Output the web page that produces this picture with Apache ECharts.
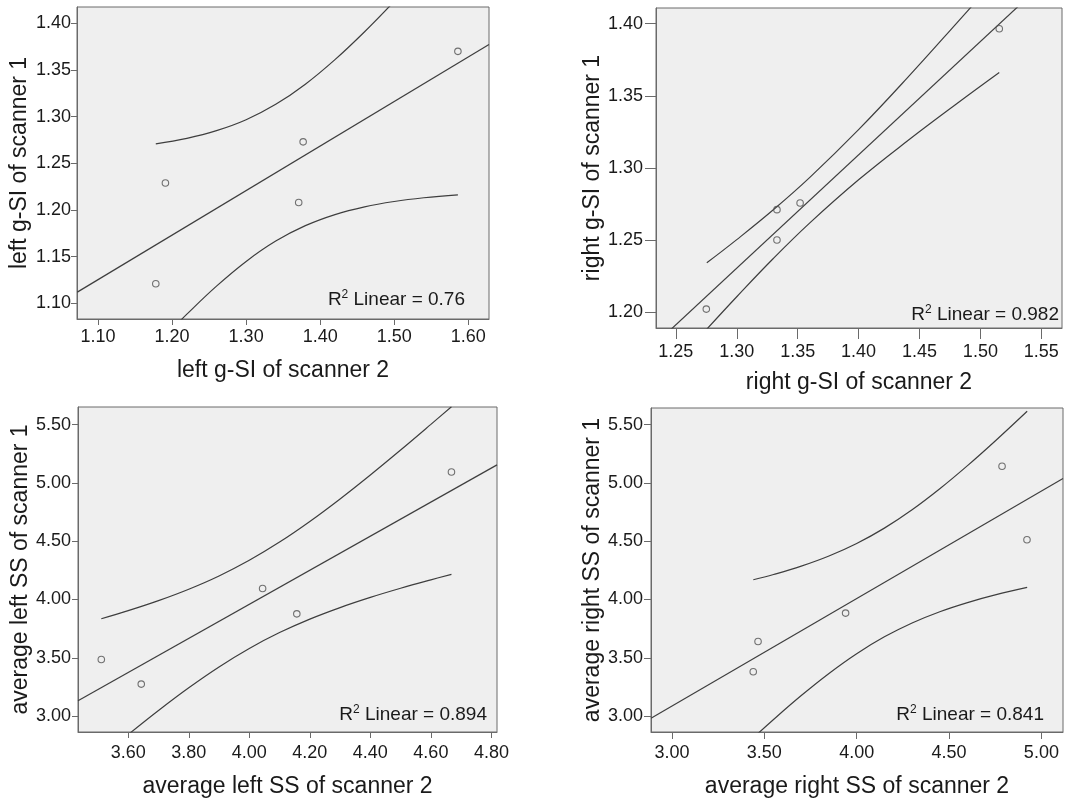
<!DOCTYPE html>
<html>
<head>
<meta charset="utf-8">
<script src="https://cdn.jsdelivr.net/npm/echarts@6/dist/echarts.min.js"></script>
<style>
  html, body { margin: 0; padding: 0; background: #ffffff; }
  #chart { width: 1069px; height: 804px; }
</style>
</head>
<body>
<div id="chart"></div>
<script>
// ---- left g-SI: scanner 2 (x) vs scanner 1 (y)
const leftGsiScanner2 = [1.178, 1.191, 1.371, 1.377, 1.586];
const leftGsiScanner1 = [1.121, 1.229, 1.208, 1.273, 1.370];
const leftGsiFit = [[1.072, 1.1120], [1.628, 1.3774]];
const leftGsiUpper = [[1.178, 1.2709], [1.22, 1.2768], [1.26, 1.2850], [1.30, 1.2967], [1.34, 1.3132],
  [1.38, 1.3348], [1.42, 1.3611], [1.46, 1.3910], [1.50, 1.4235]];
const leftGsiLower = [[1.178, 1.0543], [1.20, 1.0724], [1.22, 1.0884], [1.26, 1.1184], [1.30, 1.1449],
  [1.34, 1.1667], [1.38, 1.1832], [1.42, 1.1951], [1.46, 1.2034], [1.50, 1.2091], [1.54, 1.2131], [1.586, 1.2163]];
const leftGsiXTicks = [1.10, 1.20, 1.30, 1.40, 1.50, 1.60];
const leftGsiYTicks = [1.10, 1.15, 1.20, 1.25, 1.30, 1.35, 1.40];

// ---- right g-SI
const rightGsiScanner2 = [1.275, 1.333, 1.333, 1.352, 1.5155];
const rightGsiScanner1 = [1.202, 1.271, 1.250, 1.2756, 1.3965];
const rightGsiFit = [[1.2337, 1.1783], [1.567, 1.4403]];
const rightGsiUpper = [[1.2754, 1.2341], [1.30, 1.2502], [1.33, 1.2709], [1.36, 1.2934], [1.40, 1.3265],
  [1.44, 1.3624], [1.48, 1.3999], [1.5155, 1.4337]];
const rightGsiLower = [[1.2754, 1.1881], [1.30, 1.2106], [1.33, 1.2371], [1.36, 1.2618], [1.40, 1.2917],
  [1.44, 1.3186], [1.48, 1.3441], [1.5155, 1.3661]];
const rightGsiXTicks = [1.25, 1.30, 1.35, 1.40, 1.45, 1.50, 1.55];
const rightGsiYTicks = [1.20, 1.25, 1.30, 1.35, 1.40];

// ---- average left SS
const leftSsScanner2 = [3.511, 3.643, 4.044, 4.157, 4.668];
const leftSsScanner1 = [3.485, 3.274, 4.094, 3.877, 5.094];
const leftSsFit = [[3.434, 3.1303], [4.8185, 5.1551]];
const leftSsUpper = [[3.511, 3.8349], [3.60, 3.9045], [3.70, 3.9904], [3.80, 4.0882], [3.90, 4.2020],
  [4.00, 4.3362], [4.10, 4.4925], [4.20, 4.6695], [4.30, 4.8629], [4.40, 5.0685], [4.50, 5.2825],
  [4.60, 5.5025], [4.668, 5.6545]];
const leftSsLower = [[3.511, 2.6509], [3.60, 2.8417], [3.70, 3.0482], [3.80, 3.2430], [3.90, 3.4216],
  [4.00, 3.5800], [4.10, 3.7161], [4.20, 3.8317], [4.30, 3.9307], [4.40, 4.0177], [4.50, 4.0961],
  [4.60, 4.1686], [4.668, 4.2155]];
const leftSsXTicks = [3.60, 3.80, 4.00, 4.20, 4.40, 4.60, 4.80];
const leftSsYTicks = [3.00, 3.50, 4.00, 4.50, 5.00, 5.50];

// ---- average right SS
const rightSsScanner2 = [3.440, 3.466, 3.940, 4.787, 4.922];
const rightSsScanner1 = [3.380, 3.640, 3.883, 5.143, 4.512];
const rightSsFit = [[2.8865, 2.9803], [5.117, 5.0383]];
const rightSsUpper = [[3.4404, 4.1692], [3.55, 4.2143], [3.70, 4.2858], [3.85, 4.3728], [4.00, 4.4803],
  [4.15, 4.6124], [4.30, 4.7701], [4.45, 4.9505], [4.60, 5.1488], [4.75, 5.3602], [4.923, 5.6152]];
const rightSsLower = [[3.4404, 2.8136], [3.55, 2.9708], [3.70, 3.1760], [3.85, 3.3658], [4.00, 3.5351],
  [4.15, 3.6798], [4.30, 3.7989], [4.45, 3.8953], [4.60, 3.9737], [4.75, 4.0391], [4.923, 4.1034]];
const rightSsXTicks = [3.00, 3.50, 4.00, 4.50, 5.00];
const rightSsYTicks = [3.00, 3.50, 4.00, 4.50, 5.00, 5.50];

const r2Labels = ['0.76', '0.982', '0.894', '0.841'];

const FONT = "'Liberation Sans', Arial, Helvetica, sans-serif";
const TEXT = '#1a1a1a';
const FRAME = '#6a6a6a';
const CURVE = '#3e3e3e';

// one entry per panel: data plus its frame placement
const panels = [
  { xs: leftGsiScanner2, ys: leftGsiScanner1, fit: leftGsiFit, upper: leftGsiUpper, lower: leftGsiLower,
    xTicks: leftGsiXTicks, yTicks: leftGsiYTicks, xRange: [1.0716, 1.628], yRange: [1.0832, 1.4175],
    xName: 'left g-SI of scanner 2', yName: 'left g-SI of scanner 1',
    box: { left: 77, top: 7, width: 412, height: 312 },
    tickLen: 6, xMargin: 9, yMargin: 6, xGap: 40, yGap: 46, r2: { x: 465, y: 300 } },
  { xs: rightGsiScanner2, ys: rightGsiScanner1, fit: rightGsiFit, upper: rightGsiUpper, lower: rightGsiLower,
    xTicks: rightGsiXTicks, yTicks: rightGsiYTicks, xRange: [1.2337, 1.567], yRange: [1.1889, 1.4109],
    xName: 'right g-SI of scanner 2', yName: 'right g-SI of scanner 1',
    box: { left: 656, top: 8, width: 406, height: 320 },
    tickLen: 11, xMargin: 15, yMargin: 13, xGap: 43, yGap: 48, r2: { x: 1059, y: 315 } },
  { xs: leftSsScanner2, ys: leftSsScanner1, fit: leftSsFit, upper: leftSsUpper, lower: leftSsLower,
    xTicks: leftSsXTicks, yTicks: leftSsYTicks, xRange: [3.434, 4.8185], yRange: [2.863, 5.6517],
    xName: 'average left SS of scanner 2', yName: 'average left SS of scanner 1',
    box: { left: 78, top: 407, width: 419, height: 325 },
    tickLen: 6, xMargin: 12, yMargin: 7, xGap: 43, yGap: 45, r2: { x: 487, y: 715 } },
  { xs: rightSsScanner2, ys: rightSsScanner1, fit: rightSsFit, upper: rightSsUpper, lower: rightSsLower,
    xTicks: rightSsXTicks, yTicks: rightSsYTicks, xRange: [2.8865, 5.117], yRange: [2.863, 5.643],
    xName: 'average right SS of scanner 2', yName: 'average right SS of scanner 1',
    box: { left: 651, top: 408, width: 412, height: 324 },
    tickLen: 7, xMargin: 12, yMargin: 8, xGap: 43, yGap: 44, r2: { x: 1044, y: 715 } }
];

const fmt = v => Number(v).toFixed(2);

const grids = [], xAxes = [], yAxes = [], series = [], graphics = [];

panels.forEach((p, i) => {
  grids.push(Object.assign({
    show: true, backgroundColor: '#efefef', borderColor: FRAME, borderWidth: 1,
    containLabel: false, outerBoundsMode: 'none'
  }, p.box));

  const axisCommon = {
    gridIndex: i, type: 'value', nameLocation: 'middle',
    nameTextStyle: { fontSize: 23, color: TEXT, fontFamily: FONT },
    axisLine: { show: true, onZero: false, lineStyle: { color: FRAME, width: 1 } },
    splitLine: { show: false }
  };

  xAxes.push(Object.assign({}, axisCommon, {
    min: p.xRange[0], max: p.xRange[1], name: p.xName, nameGap: p.xGap,
    axisTick: { show: true, customValues: p.xTicks, length: p.tickLen, lineStyle: { color: FRAME } },
    axisLabel: { customValues: p.xTicks, formatter: fmt, fontSize: 18, color: TEXT, fontFamily: FONT, margin: p.xMargin }
  }));

  yAxes.push(Object.assign({}, axisCommon, {
    min: p.yRange[0], max: p.yRange[1], name: p.yName, nameGap: p.yGap,
    axisTick: { show: true, customValues: p.yTicks, length: p.tickLen, lineStyle: { color: FRAME } },
    axisLabel: { customValues: p.yTicks, formatter: fmt, fontSize: 18, color: TEXT, fontFamily: FONT, margin: p.yMargin }
  }));

  const lineStyle = { color: CURVE, width: 1.2 };
  series.push(
    { type: 'line', xAxisIndex: i, yAxisIndex: i, data: p.fit, showSymbol: false, clip: true,
      lineStyle, silent: true, z: 3 },
    { type: 'line', xAxisIndex: i, yAxisIndex: i, data: p.upper, showSymbol: false, clip: true,
      smooth: 0.4, lineStyle, silent: true, z: 3 },
    { type: 'line', xAxisIndex: i, yAxisIndex: i, data: p.lower, showSymbol: false, clip: true,
      smooth: 0.4, lineStyle, silent: true, z: 3 },
    { type: 'scatter', xAxisIndex: i, yAxisIndex: i, data: p.xs.map((x, k) => [x, p.ys[k]]),
      symbol: 'circle', symbolSize: 6.5,
      itemStyle: { color: 'rgba(0,0,0,0)', borderColor: '#505050', borderWidth: 1.1 }, z: 4 }
  );

  graphics.push({
    type: 'text', x: p.r2.x, y: p.r2.y, z: 10,
    style: {
      text: '{a|R}{s|2}{a| Linear = ' + r2Labels[i] + '}',
      align: 'right', verticalAlign: 'middle',
      rich: {
        a: { fontSize: 19, fontFamily: FONT, fill: TEXT, color: TEXT, lineHeight: 22 },
        s: { fontSize: 12, fontFamily: FONT, fill: TEXT, color: TEXT, lineHeight: 12, verticalAlign: 'top' }
      }
    }
  });
});

const chart = echarts.init(document.getElementById('chart'), null, { renderer: 'canvas' });
chart.setOption({
  animation: false,
  backgroundColor: '#ffffff',
  textStyle: { fontFamily: FONT },
  grid: grids,
  xAxis: xAxes,
  yAxis: yAxes,
  series: series,
  graphic: graphics
});
</script>
</body>
</html>
